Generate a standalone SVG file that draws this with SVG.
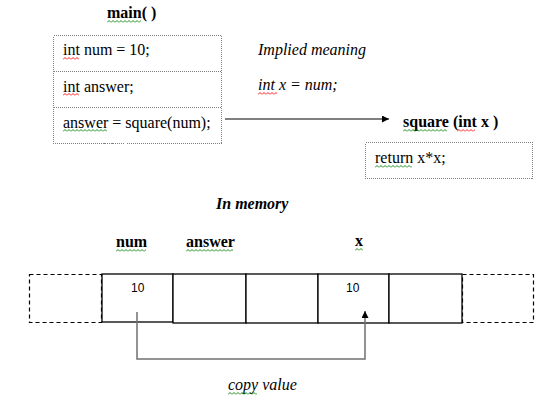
<svg xmlns="http://www.w3.org/2000/svg" width="544" height="400" viewBox="0 0 544 400">
<style>
.t{font-family:"Liberation Serif","Times New Roman",serif;font-size:16px;fill:#000}
.b{font-weight:bold}
.i{font-style:italic}
.s{font-family:"Liberation Sans",Arial,sans-serif;font-size:12px;fill:#000}
.dot{fill:none;stroke:#808080;stroke-width:1;stroke-dasharray:1,1;shape-rendering:crispEdges}
.cell{fill:#fff;stroke:#000;stroke-width:1.3}
.dash{fill:none;stroke:#000;stroke-width:1.2;stroke-dasharray:4,3}
</style>
<defs>
<pattern id="sg" patternUnits="userSpaceOnUse" width="4" height="3"><path d="M0,2.5 L2,0.5 L4,2.5" fill="none" stroke="#008000" stroke-width="0.9"/></pattern>
<pattern id="sr" patternUnits="userSpaceOnUse" width="4" height="3"><path d="M0,2.5 L2,0.5 L4,2.5" fill="none" stroke="#ff0000" stroke-width="0.9"/></pattern>
<marker id="ah" viewBox="0 0 10 10" refX="10" refY="5" markerWidth="7" markerHeight="7" orient="auto" markerUnits="userSpaceOnUse"><path d="M0,0 L10,5 L0,10 Z" fill="#000"/></marker>
</defs>
<rect width="544" height="400" fill="#fff"/>

<g id="main">
<text class="t b" x="107" y="18">main( )</text>
<rect class="dot" x="53.5" y="35.5" width="168" height="108"/>
<line class="dot" x1="53.5" y1="71.5" x2="221.5" y2="71.5"/>
<line class="dot" x1="53.5" y1="107.5" x2="221.5" y2="107.5"/>
<text class="t" x="63" y="55">int num = 10;</text>
<text class="t" x="63" y="92">int answer;</text>
<text class="t" x="63" y="128">answer = square(num);</text>
</g>

<g id="implied">
<text class="t i" x="258" y="55">Implied meaning</text>
<text class="t i" x="258" y="90">int x = num;</text>
</g>

<g id="square">
<text class="t b" x="403" y="127">square (int x )</text>
<rect class="dot" x="365.5" y="142.5" width="167" height="36"/>
<text class="t" x="375" y="163">return x*x;</text>
</g>

<g id="memory">
<text class="t b i" x="216" y="209">In memory</text>
<text class="t b" x="116" y="247">num</text>
<text class="t b" x="186" y="247">answer</text>
<text class="t b" x="355" y="246">x</text>
<rect class="dash" x="29.5" y="274.5" width="72" height="48"/>
<rect class="dash" x="462.5" y="274.5" width="71" height="48"/>
<rect class="cell" x="102" y="274" width="71" height="48"/>
<rect class="cell" x="173" y="274" width="73" height="49"/>
<rect class="cell" x="246" y="274" width="72" height="49"/>
<rect class="cell" x="318" y="274" width="71" height="49"/>
<rect class="cell" x="389" y="274" width="73" height="49"/>
<text class="s" x="131" y="292">10</text>
<text class="s" x="346" y="292">10</text>
<text class="t i" x="228" y="390">copy value</text>
</g>

<g id="connectors">
<line x1="225" y1="119" x2="389" y2="119" stroke="#000" stroke-width="1.2" marker-end="url(#ah)"/>
<path d="M137,312 V359 H365 V311" fill="none" stroke="#707070" stroke-width="1.5" marker-end="url(#ah)"/>
</g>

<g id="squiggles">
<rect width="34" height="3" fill="url(#sg)" transform="translate(107,20)"/>
<rect width="16" height="3" fill="url(#sr)" transform="translate(63,57)"/>
<rect width="16" height="3" fill="url(#sr)" transform="translate(63,93)"/>
<rect width="44" height="3" fill="url(#sg)" transform="translate(63,129)"/>
<rect width="19" height="3" fill="url(#sr)" transform="translate(258,92)"/>
<rect width="44" height="3" fill="url(#sg)" transform="translate(403,129)"/>
<rect width="18" height="3" fill="url(#sr)" transform="translate(457,129)"/>
<rect width="37" height="3" fill="url(#sg)" transform="translate(375,165)"/>
<rect width="30" height="3" fill="url(#sg)" transform="translate(116,249)"/>
<rect width="47" height="3" fill="url(#sg)" transform="translate(186,249)"/>
<rect width="8" height="3" fill="url(#sg)" transform="translate(355,248)"/>
<rect width="29" height="3" fill="url(#sg)" transform="translate(228,392)"/>
</g>
</svg>
